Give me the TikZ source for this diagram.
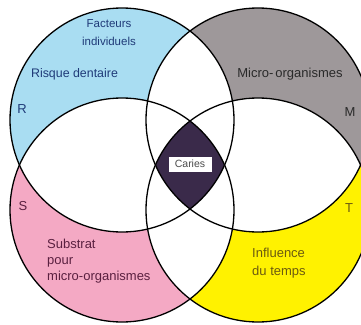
\documentclass[tikz,border=0pt]{standalone}
\usepackage{fontspec}
\setmainfont{Liberation Sans}
\definecolor{cblue}{HTML}{A9DDF2}
\definecolor{cgray}{HTML}{9E989A}
\definecolor{cpink}{HTML}{F4A9C4}
\definecolor{cyellow}{HTML}{FFF200}
\definecolor{cdark}{HTML}{3A2A4A}
\definecolor{tblue}{HTML}{1F3A78}
\definecolor{tgray}{HTML}{2A2A2A}
\definecolor{tpink}{HTML}{5A2040}
\definecolor{tyellow}{HTML}{6B5A10}
\begin{document}
\begin{tikzpicture}[x=1pt,y=-1pt,
  lbl/.style={font=\fontsize{13}{15}\selectfont, inner sep=0pt, text height=9pt, text depth=2.5pt},
  small/.style={font=\fontsize{11.5}{13}\selectfont},
  outline/.style={draw=black, line width=1.3pt}]
\useasboundingbox (0,0) rectangle (361,324);
\clip (0,0) rectangle (361,324);
\def\rr{112pt}
\coordinate (A) at (122,120);
\coordinate (B) at (258,120);
\coordinate (C) at (122,210);
\coordinate (D) at (258,210);
\fill[white] (0,0) rectangle (361,324);
% colored circles
\fill[cblue] (A) circle[radius=\rr];
\fill[cgray] (B) circle[radius=\rr];
\fill[cpink] (C) circle[radius=\rr];
\fill[cyellow] (D) circle[radius=\rr];
% overlaps in white
\foreach \p/\q in {A/B,A/C,A/D,B/C,B/D,C/D}{
  \begin{scope}
    \clip (\p) circle[radius=\rr];
    \fill[white] (\q) circle[radius=\rr];
  \end{scope}
}
% four-way intersection
\begin{scope}
  \clip (A) circle[radius=\rr];
  \clip (B) circle[radius=\rr];
  \clip (C) circle[radius=\rr];
  \fill[cdark] (D) circle[radius=\rr];
\end{scope}
% outlines
\draw[outline] (A) circle[radius=\rr];
\draw[outline] (B) circle[radius=\rr];
\draw[outline] (C) circle[radius=\rr];
\draw[outline] (D) circle[radius=\rr];
% centre label
\node[fill=white, inner sep=0pt, minimum width=43pt, minimum height=15pt,
      font=\fontsize{10.5}{12}\selectfont, text=black!70] (caries) at (190,164) {Caries};
% labels
\node[lbl, small, text=tblue] (fac1) at (109,24) {Facteurs};
\node[lbl, small, text=tblue] (fac2) at (109,42) {individuels};
\node[lbl, font=\fontsize{12.4}{14}\selectfont, text=tblue] (risque) at (74.5,74) {Risque dentaire};
\node[lbl, text=tblue] (lR) at (22,110) {R};
\node[lbl, text=tgray] (micro) at (290,74) {Micro-\hspace{2pt}organismes};
\node[lbl, text=tgray] (lM) at (350,113) {M};
\node[lbl, text=tpink] (lS) at (23,207) {S};
\node[lbl, text=tpink, anchor=west] (sub1) at (47,245) {Substrat};
\node[lbl, text=tpink, anchor=west] (sub2) at (47,261) {pour};
\node[lbl, text=tpink, anchor=west] (sub3) at (47,277) {micro-organismes};
\node[lbl, text=tyellow] (lT) at (349,209) {T};
\node[lbl, text=tyellow, anchor=west] (inf1) at (252,254) {Influence};
\node[lbl, text=tyellow, anchor=west] (inf2) at (252,272) {du temps};
\end{tikzpicture}
\end{document}
